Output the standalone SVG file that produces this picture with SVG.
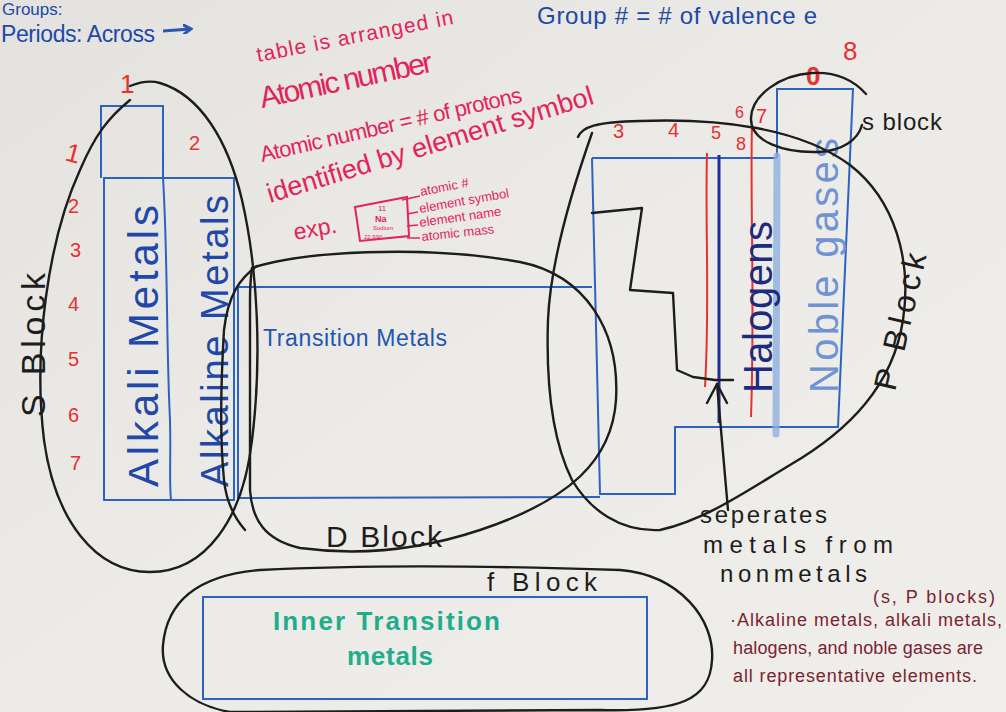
<svg xmlns="http://www.w3.org/2000/svg" width="1006" height="712" viewBox="0 0 1006 712">
<defs>
<linearGradient id="bg" x1="0" y1="0" x2="1" y2="1">
<stop offset="0" stop-color="#e3e2de"/>
<stop offset="0.5" stop-color="#ecebe7"/>
<stop offset="1" stop-color="#efeeea"/>
</linearGradient>
<marker id="arr" markerWidth="10" markerHeight="10" refX="7" refY="5" orient="auto" markerUnits="userSpaceOnUse">
<path d="M0,0 L8,5 L0,10" fill="none" stroke="#2a58b0" stroke-width="3"/>
</marker>
</defs>
<style>
.bl{fill:none;stroke:#2c63c2;stroke-width:2}
.ink{fill:none;stroke:#1d1d1d;stroke-width:2.4;stroke-linecap:round;stroke-linejoin:round}
.t{font-family:"Liberation Sans",Arial,sans-serif}
.red{fill:#e2245a}
.num{fill:#e8302e;font-family:"Liberation Sans",Arial,sans-serif}
.blk{fill:#1d1d1d}
.blu{fill:#2148a8}
.dred{fill:#7a2430;font-family:"Liberation Sans",Arial,sans-serif;font-size:18px}
</style>
<rect width="1006" height="712" fill="url(#bg)"/>

<g id="header">
<text class="t blu" x="2" y="15" font-size="17">Groups:</text>
<text class="t blu" x="1" y="42" font-size="23" textLength="154">Periods: Across</text>
<line x1="163" y1="31" x2="190" y2="29" stroke="#2a58b0" stroke-width="3" marker-end="url(#arr)"/>
<text class="t blu" x="537" y="24" font-size="24" textLength="280">Group # = # of valence e</text>
</g>

<g id="notes-red">
<text class="t red" font-size="21" transform="translate(258,62) rotate(-11)" textLength="200">table is arranged in</text>
<text class="t red" font-size="30" transform="translate(262,108) rotate(-12)" textLength="176">Atomic number</text>
<text class="t red" font-size="22" transform="translate(262,162) rotate(-13)" textLength="268">Atomic number = # of protons</text>
<text class="t red" font-size="27" transform="translate(270,203) rotate(-17)" textLength="340">identified by element symbol</text>
<text class="t red" font-size="23" transform="translate(295,240) rotate(-10)">exp.</text>
<polygon points="355,207 407,197 409,236 360,241" fill="none" stroke="#e2245a" stroke-width="2"/>
<text class="t red" font-size="8" x="378" y="211">11</text>
<text class="t red" font-size="9" x="375" y="222" font-weight="bold">Na</text>
<text class="t red" font-size="6" x="373" y="230">Sodium</text>
<text class="t red" font-size="6" x="364" y="239">22.990</text>
<g stroke="#e2245a" stroke-width="1.5">
<line x1="402" y1="200" x2="420" y2="196"/>
<line x1="407" y1="214" x2="418" y2="212"/>
<line x1="407" y1="226" x2="418" y2="225"/>
<line x1="407" y1="238" x2="420" y2="238"/>
</g>
<text class="t red" font-size="13" transform="translate(421,196) rotate(-11)">atomic #</text>
<text class="t red" font-size="13" transform="translate(420,213) rotate(-10)">element symbol</text>
<text class="t red" font-size="13" transform="translate(420,227) rotate(-8)">element name</text>
<text class="t red" font-size="13" transform="translate(422,241) rotate(-6)">atomic mass</text>
</g>

<g id="numbers">
<text class="num" font-size="26" x="120" y="93">1</text>
<text class="num" font-size="26" transform="translate(64,160) rotate(15)">1</text>
<text class="num" font-size="20" x="189" y="150">2</text>
<text class="num" font-size="20" x="68" y="213">2</text>
<text class="num" font-size="20" x="70" y="257">3</text>
<text class="num" font-size="20" x="68" y="311">4</text>
<text class="num" font-size="20" x="68" y="366">5</text>
<text class="num" font-size="20" x="68" y="422">6</text>
<text class="num" font-size="20" x="70" y="470">7</text>
<text class="num" font-size="20" x="613" y="138">3</text>
<text class="num" font-size="20" x="668" y="137">4</text>
<text class="num" font-size="18" x="711" y="139">5</text>
<text class="num" font-size="16" x="735" y="118">6</text>
<text class="num" font-size="18" x="736" y="150">8</text>
<text class="num" font-size="20" x="756" y="123">7</text>
<text class="num" font-size="26" x="806" y="85" font-weight="bold">0</text>
<text class="num" font-size="26" x="843" y="60">8</text>
</g>

<g id="s-block-table">
<polyline class="bl" points="101,178 101,106 163,106 163,178"/>
<rect class="bl" x="104" y="178" width="130" height="322"/>
<path class="bl" d="M163,178 C168,260 166,340 170,420 C171,460 169,480 171,500"/>
<text class="t blu" font-size="42" transform="translate(158,487) rotate(-90)" textLength="282">Alkali Metals</text>
<text class="t blu" font-size="38" transform="translate(228,487) rotate(-90)" textLength="292">Alkaline Metals</text>
</g>

<g id="d-block-table">
<path class="bl" d="M236,287 L592,287 M238,287 L238,498 L600,497"/>
<text class="t" fill="#1f56b0" font-size="23" x="263" y="346" textLength="184">Transition Metals</text>
</g>

<g id="p-block-table">
<path class="bl" d="M592,158 L777,158 M592,158 L600,494 L675,494 L675,427 L838,427 L853,89 L777,89 L777,158"/>
<line x1="777" y1="156" x2="776" y2="434" stroke="#8fb0e0" stroke-width="7" stroke-linecap="round" opacity="0.8"/>
<path d="M707,153 C705,230 710,300 705,387" fill="none" stroke="#e8302e" stroke-width="2"/>
<path d="M752,125 C750,200 755,300 751,417" fill="none" stroke="#e8302e" stroke-width="2"/>
<line x1="719" y1="155" x2="719" y2="423" stroke="#1e2f9a" stroke-width="3"/>
<text class="t" fill="#1c2a80" font-size="40" transform="translate(772,393) rotate(-90)" textLength="172">Halogens</text>
<text class="t" fill="#6f93d4" font-size="40" transform="translate(838,393) rotate(-90)" textLength="255">Noble gases</text>
</g>

<g id="f-block-table">
<rect class="bl" x="203" y="597" width="444" height="102"/>
<text class="t" fill="#1fae8c" font-size="26" font-weight="bold" x="273" y="630" textLength="227">Inner Transition</text>
<text class="t" fill="#1fae8c" font-size="26" font-weight="bold" x="347" y="665" textLength="86">metals</text>
</g>

<g id="connectors">
<path class="ink" d="M130,86 C140,82 150,80 160,83 C200,95 228,140 242,200 C258,270 262,360 252,440 C243,520 205,572 150,572 C95,572 55,520 44,440 C33,350 48,240 80,170 C95,135 108,118 130,100"/>
<path class="ink" d="M252,268 C300,252 420,244 520,262 C585,275 620,330 616,400 C612,460 570,500 480,530 C420,550 360,556 300,548 C265,540 252,520 250,490 L250,300 C250,285 251,275 252,268"/>
<path class="ink" stroke-width="4" d="M257,266 C240,278 228,295 224,330 C221,380 220,440 224,480 C226,500 232,515 245,530"/>
<path class="ink" d="M578,137 C582,127 595,122 640,121 C720,118 800,128 850,165 C895,200 912,260 903,320 C893,385 850,430 790,465 C745,492 705,520 660,530 C620,532 590,510 572,480 C552,440 546,380 548,320 C550,270 565,210 592,133"/>
<path class="ink" d="M866,94 C850,76 830,72 812,73 C780,75 752,95 751,118 C750,142 785,153 818,152 C842,151 858,140 862,125"/>
<path class="ink" d="M620,570 C680,575 715,620 712,660 C710,700 680,712 600,710 L230,712 C190,705 160,680 163,645 C167,600 200,575 260,570 C380,564 500,566 620,570"/>
<polyline class="ink" points="592,213 642,208 630,290 673,293 677,370 693,377 715,380 733,380"/>
<path class="ink" d="M728,510 L717,384 M707,403 L717,384 L727,403"/>
</g>

<g id="labels-black">
<text class="t blk" font-size="24" x="862" y="130" textLength="80">s block</text>
<text class="t blk" font-size="34" transform="translate(45,417) rotate(-90)" textLength="144">S Block</text>
<text class="t blk" font-size="30" x="326" y="547" textLength="116">D Block</text>
<text class="t blk" font-size="32" transform="translate(895,392) rotate(-77)" textLength="140">P Block</text>
<text class="t blk" font-size="26" x="487" y="591" textLength="110">f Block</text>
<text class="t blk" font-size="24" x="700" y="523" textLength="127">seperates</text>
<text class="t blk" font-size="24" x="703" y="553" textLength="190">metals from</text>
<text class="t blk" font-size="24" x="720" y="582" textLength="147">nonmetals</text>
</g>

<g id="notes-darkred">
<text class="dred" font-size="16" x="873" y="603" textLength="122">(s, P blocks)</text>
<text class="dred" x="730" y="626" textLength="272">·Alkaline metals, alkali metals,</text>
<text class="dred" x="733" y="654" textLength="250">halogens, and noble gases are</text>
<text class="dred" x="733" y="682" textLength="244">all representative elements.</text>
</g>
</svg>
